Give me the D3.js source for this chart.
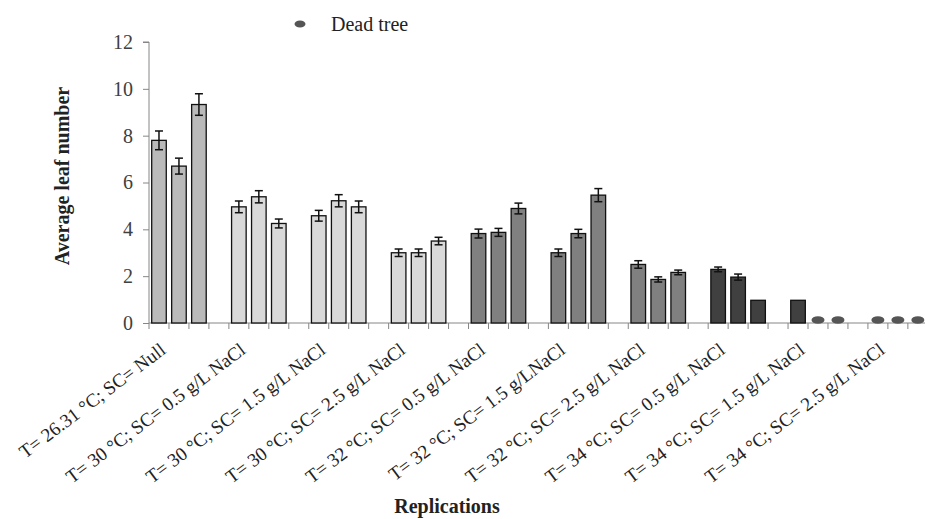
<!DOCTYPE html>
<head>
  <meta charset="utf-8">
  <style>
    body { margin: 0; background: #fff; }
    text { font-family: 'Liberation Serif', 'Times New Roman', Times, serif; }
  </style>
</head>
<body>
  <script src="https://cdn.jsdelivr.net/npm/d3@7"></script>
  <script>
    // chart data (3 replications per treatment, null = dead tree)
    const treatments = [
      'T= 26.31 °C; SC= Null',
      'T= 30 °C; SC= 0.5 g/L NaCl',
      'T= 30 °C; SC= 1.5 g/L NaCl',
      'T= 30 °C; SC= 2.5 g/L NaCl',
      'T= 32 °C; SC= 0.5 g/L NaCl',
      'T= 32 °C; SC= 1.5 g/LNaCl',
      'T= 32 °C; SC= 2.5 g/L NaCl',
      'T= 34 °C; SC= 0.5 g/L NaCl',
      'T= 34 °C; SC= 1.5 g/L NaCl',
      'T= 34 °C; SC= 2.5 g/L NaCl'
    ];
    const means = [
      [7.8, 6.7, 9.33],
      [4.96, 5.39, 4.25],
      [4.58, 5.22, 4.96],
      [3.0, 3.0, 3.5],
      [3.82, 3.87, 4.89],
      [3.0, 3.82, 5.46],
      [2.5, 1.86, 2.16],
      [2.29, 1.96, 0.97],
      [0.97, null, null],
      [null, null, null]
    ];
    const errors = [
      [0.4, 0.34, 0.46],
      [0.25, 0.26, 0.19],
      [0.23, 0.26, 0.25],
      [0.16, 0.16, 0.16],
      [0.19, 0.17, 0.23],
      [0.16, 0.18, 0.28],
      [0.16, 0.11, 0.1],
      [0.1, 0.13, 0],
      [0, 0, 0],
      [0, 0, 0]
    ];
    const groupColors = ['#bababa', '#d9d9d9', '#d9d9d9', '#d9d9d9',
                         '#808080', '#808080', '#808080',
                         '#404040', '#404040', '#404040'];
    const yTicks = [0, 2, 4, 6, 8, 10, 12];

    const width = 925, height = 519;
    const x0 = 149, y0 = 323, yTop = 42;
    const slotsPerGroup = 4;
    const nSlots = treatments.length * slotsPerGroup;
    const serif = "'Liberation Serif', 'Times New Roman', serif";

    const svg = d3.select('body').append('svg')
      .attr('width', width).attr('height', height);

    const xScale = d3.scaleBand()
      .domain(d3.range(nSlots))
      .range([x0, x0 + nSlots * 19.97])
      .paddingInner(0.27).paddingOuter(0.135);
    const step = xScale.step();
    const yScale = d3.scaleLinear().domain([0, 12]).range([y0, yTop]);

    // flatten into bar records
    const bars = [];
    means.forEach((g, gi) => g.forEach((v, ri) => {
      bars.push({ g: gi, slot: gi * slotsPerGroup + ri, v: v, e: errors[gi][ri] });
    }));

    // y axis
    const yAxis = svg.append('g').attr('transform', `translate(${x0},0)`)
      .call(d3.axisLeft(yScale).tickValues(yTicks).tickSize(6).tickPadding(10))
      .attr('font-family', serif)
      .attr('font-size', 20);
    yAxis.select('.domain').attr('stroke', '#868686').attr('d', `M-6,${yTop}H0V${y0}`);
    yAxis.selectAll('.tick line').attr('stroke', '#868686');
    yAxis.selectAll('.tick text').attr('fill', '#404040').style('font-family', serif);

    // x axis line with slot boundary ticks
    const xAxisG = svg.append('g');
    xAxisG.append('line')
      .attr('x1', x0).attr('x2', x0 + nSlots * step)
      .attr('y1', y0).attr('y2', y0)
      .attr('stroke', '#868686');
    xAxisG.selectAll('line.tk').data(d3.range(nSlots + 1)).enter().append('line')
      .attr('class', 'tk')
      .attr('x1', d => x0 + d * step).attr('x2', d => x0 + d * step)
      .attr('y1', y0).attr('y2', y0 + 6)
      .attr('stroke', '#868686');

    // bars
    const live = bars.filter(d => d.v !== null);
    svg.append('g').selectAll('rect').data(live).enter().append('rect')
      .attr('x', d => xScale(d.slot))
      .attr('y', d => yScale(d.v))
      .attr('width', xScale.bandwidth())
      .attr('height', d => y0 - yScale(d.v))
      .attr('fill', d => groupColors[d.g])
      .attr('stroke', '#111')
      .attr('stroke-width', 1.3);

    // error bars
    const eb = svg.append('g').attr('stroke', '#111').attr('stroke-width', 1.5);
    live.filter(d => d.e > 0).forEach(d => {
      const cx = xScale(d.slot) + xScale.bandwidth() / 2;
      eb.append('line').attr('x1', cx).attr('x2', cx)
        .attr('y1', yScale(d.v + d.e)).attr('y2', yScale(d.v - d.e));
      [d.v + d.e, d.v - d.e].forEach(v => {
        eb.append('line').attr('x1', cx - 4).attr('x2', cx + 4)
          .attr('y1', yScale(v)).attr('y2', yScale(v));
      });
    });

    // dead tree markers
    svg.append('g').selectAll('ellipse').data(bars.filter(d => d.v === null)).enter()
      .append('ellipse')
      .attr('cx', d => xScale(d.slot) + xScale.bandwidth() / 2)
      .attr('cy', yScale(0.13))
      .attr('rx', 6.5).attr('ry', 3.8)
      .attr('fill', '#555');

    // group labels
    svg.append('g').selectAll('text').data(treatments).enter().append('text')
      .attr('transform', (d, i) => {
        const cx = xScale(i * slotsPerGroup + 1) + xScale.bandwidth() / 2 - 16;
        return `translate(${cx},${y0 + 24}) rotate(-37)`;
      })
      .attr('text-anchor', 'end')
      .attr('dy', '0.35em')
      .attr('fill', '#222')
      .style('font-size', '19px')
      .text(d => d);

    // legend
    svg.append('ellipse').attr('cx', 300).attr('cy', 24).attr('rx', 5.5).attr('ry', 3.5).attr('fill', '#555');
    svg.append('text').attr('x', 331).attr('y', 31)
      .attr('fill', '#222').style('font-size', '20px').style('font-family', serif)
      .text('Dead tree');

    // axis titles
    svg.append('text')
      .attr('transform', 'translate(69,176) rotate(-90)')
      .attr('text-anchor', 'middle')
      .style('font-size', '20px').style('font-weight', 'bold')
      .attr('fill', '#222')
      .text('Average leaf number');
    svg.append('text')
      .attr('x', 447).attr('y', 513)
      .attr('text-anchor', 'middle')
      .style('font-size', '20px').style('font-weight', 'bold')
      .attr('fill', '#222')
      .text('Replications');
  </script>
</body>
